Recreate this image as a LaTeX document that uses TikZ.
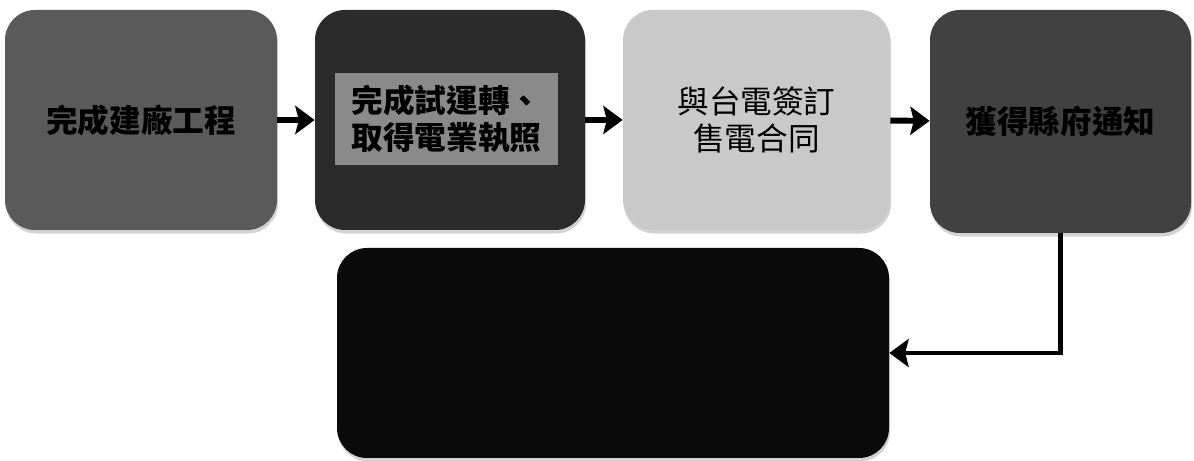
\documentclass[tikz,border=0pt]{standalone}
\usepackage{fontspec}
\usepackage{tikz}
\usetikzlibrary{positioning}
\usetikzlibrary{arrows.meta}
\usetikzlibrary{shadows}
\newfontfamily\cjk{Noto Sans CJK TC}

\definecolor{stepA}{HTML}{5A5A5A}
\definecolor{stepB}{HTML}{2B2B2B}
\definecolor{stepBin}{HTML}{8A8A8A}
\definecolor{stepC}{HTML}{C9C9C9}
\definecolor{stepD}{HTML}{414141}
\definecolor{stepE}{HTML}{0A0A0A}

\tikzset{
    stepbox/.style={rounded corners=0.6cm, minimum width=5.4cm, minimum height=4.4cm,
        align=center, font=\cjk\fontsize{18}{21}\selectfont, text=black,
        drop shadow={shadow xshift=0.6pt, shadow yshift=-2pt, opacity=0.35}},
    boldtext/.style={font=\cjk\bfseries\fontsize{18}{21}\selectfont},
    flow/.style={line width=3.4pt, -{Stealth[length=11pt, width=16pt, inset=2pt]}},
}

\begin{document}
\begin{tikzpicture}
    \useasboundingbox (0,0) rectangle (23.88,9.22);
    \node[stepbox, boldtext, fill=stepA, minimum width=5.44cm] (build) at (2.82, 6.82) {完成建廠工程};
    \node[stepbox, fill=stepB] (license) at (9.0, 6.82) {};
    \node[fill=stepBin, minimum width=4.46cm, minimum height=1.84cm, align=center,
        boldtext] (licensetxt) at (8.93, 6.84)
        {完成試運轉、\\取得電業執照};
    \node[stepbox, fill=stepC, minimum width=5.34cm] (contract) at (15.13, 6.82) {與台電簽訂\\售電合同};
    \node[stepbox, boldtext, fill=stepD, minimum width=5.22cm, minimum height=4.46cm] (notice) at (21.21, 6.79) {獲得縣府通知};
    \node[stepbox, fill=stepE, minimum width=11.04cm, minimum height=4.2cm] (final) at (12.26, 2.16) {};

    \draw[flow] (build) -- (license);
    \draw[flow] (license) -- (contract);
    \draw[flow] (contract) -- (notice);
    \draw[flow, line width=2.6pt] (notice.south) |- (final.east);
\end{tikzpicture}
\end{document}
